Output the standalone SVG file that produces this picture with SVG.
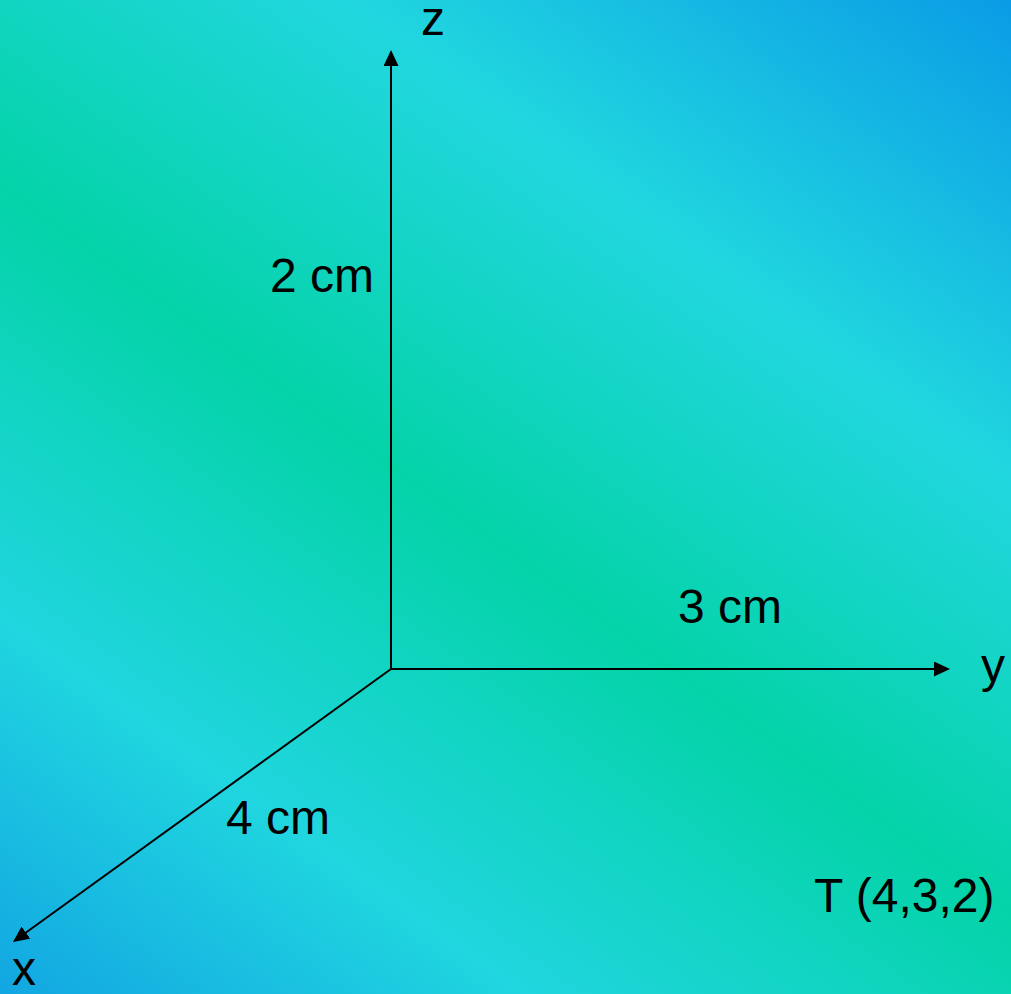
<svg xmlns="http://www.w3.org/2000/svg" width="1011" height="994" viewBox="0 0 1011 994">
  <defs>
    <linearGradient id="bg" gradientUnits="userSpaceOnUse" x1="0" y1="994" x2="816" y2="-140">
      <stop offset="0" stop-color="#12a6e2"/>
      <stop offset="0.22" stop-color="#20d6df"/>
      <stop offset="0.47" stop-color="#04d3a8"/>
      <stop offset="0.72" stop-color="#21d7df"/>
      <stop offset="1" stop-color="#0a9ce6"/>
    </linearGradient>
    <marker id="arrow" markerUnits="userSpaceOnUse" markerWidth="16" markerHeight="15" refX="14" refY="7.5" orient="auto" viewBox="0 0 16 15">
      <path d="M0,0 L16,7.5 L0,15 z" fill="#000"/>
    </marker>
    <style>
      .axis { stroke: #000; stroke-width: 2; fill: none; marker-end: url(#arrow); }
      .lbl { font-family: "Liberation Sans", Arial, sans-serif; font-size: 48px; fill: #000; }
    </style>
  </defs>
  <rect x="0" y="0" width="1011" height="994" fill="url(#bg)"/>
  <g id="connectors">
    <line class="axis" x1="391" y1="669" x2="391" y2="52"/>
    <line class="axis" x1="391" y1="669" x2="948" y2="669"/>
    <line class="axis" x1="391" y1="669" x2="14.6" y2="940.8"/>
  </g>
  <g id="label-z"><text class="lbl" x="421" y="35">z</text></g>
  <g id="label-y"><text class="lbl" x="981" y="682">y</text></g>
  <g id="label-x"><text class="lbl" x="12" y="985">x</text></g>
  <g id="label-2cm"><text class="lbl" x="270" y="292">2 cm</text></g>
  <g id="label-3cm"><text class="lbl" x="678" y="623">3 cm</text></g>
  <g id="label-4cm"><text class="lbl" x="226" y="834">4 cm</text></g>
  <g id="label-T"><text class="lbl" x="814" y="912">T (4,3,2)</text></g>
</svg>
